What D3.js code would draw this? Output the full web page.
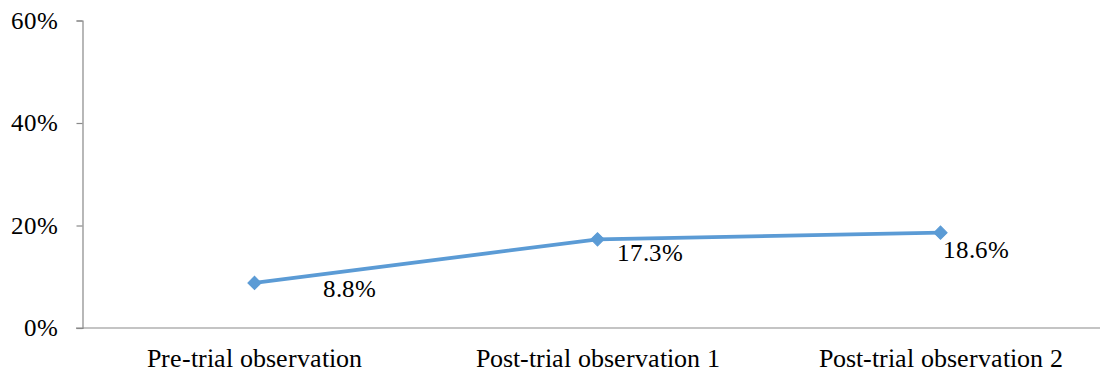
<!DOCTYPE html>
<html>
<head>
<meta charset="utf-8">
<script src="https://cdn.jsdelivr.net/npm/d3@7"></script>
<style>
  @font-face {
    font-family: "ChartSerif";
    src: local("Liberation Serif"), local("LiberationSerif"), local("LiberationSerif-Regular"),
         local("Times New Roman"), local("Tinos"), local("DejaVu Serif"), local("DejaVuSerif");
  }
  html, body { margin: 0; padding: 0; background: #fff; }
  svg { display: block; }
</style>
</head>
<body>
<svg id="chart" width="1100" height="374"></svg>
<script>
// Observation phases and the share recorded at each
const categories = ["Pre-trial observation", "Post-trial observation 1", "Post-trial observation 2"];
const values = [8.8, 17.3, 18.6];
const yTicks = [0, 20, 40, 60];

// Hand-placed data label nudges (dx, dy from each point)
const labelNudge = [[68, 14], [19, 22], [2, 25]];

const FONT = "ChartSerif, 'Liberation Serif', 'DejaVu Serif', serif";
const svg = d3.select("#chart").style("font-family", FONT);
const axisColor = "#898989";
const lineColor = "#5b9bd5";

const x = d3.scaleBand().domain(categories).range([83, 1112]);
const y = d3.scaleLinear().domain([0, 60]).range([328, 20.5]);

// Y axis
const yAxis = svg.append("g").attr("transform", "translate(82.5,0)")
  .call(d3.axisLeft(y).tickValues(yTicks).tickFormat(d => d + "%").tickSize(6).tickSizeOuter(6));
yAxis.attr("font-family", null).attr("font-size", null);
yAxis.select(".domain").attr("stroke", axisColor).attr("stroke-width", 1.2);
yAxis.selectAll(".tick line").attr("stroke", axisColor).attr("stroke-width", 1.2);
yAxis.selectAll(".tick text").attr("x", -25)
  .style("font-family", FONT).style("font-size", "24.5px").attr("fill", "#000");

// X axis baseline and category labels
svg.append("line")
  .attr("x1", 76).attr("x2", 1100)
  .attr("y1", y(0)).attr("y2", y(0))
  .attr("stroke", axisColor).attr("stroke-width", 1.2);

svg.selectAll(".xlab").data(categories).enter().append("text")
  .attr("class", "xlab")
  .attr("x", d => x(d) + x.bandwidth() / 2)
  .attr("y", 366.5)
  .attr("text-anchor", "middle")
  .style("font-family", FONT).style("font-size", "26px")
  .attr("fill", "#000")
  .text(d => d);

// Series line
const pts = categories.map((c, i) => ({ c, v: values[i], i }));
const line = d3.line().x(d => x(d.c) + x.bandwidth() / 2).y(d => y(d.v));
svg.append("path").datum(pts)
  .attr("d", line)
  .attr("fill", "none")
  .attr("stroke", lineColor)
  .attr("stroke-width", 3.8)
  .attr("stroke-linejoin", "round");

// Diamond markers
svg.selectAll(".mk").data(pts).enter().append("path")
  .attr("class", "mk")
  .attr("transform", d => `translate(${x(d.c) + x.bandwidth() / 2},${y(d.v)}) rotate(45)`)
  .attr("d", d3.symbol().type(d3.symbolSquare).size(88))
  .attr("fill", lineColor)
  .attr("stroke", lineColor)
  .attr("stroke-width", 1);

// Data labels
svg.selectAll(".dl").data(pts).enter().append("text")
  .attr("class", "dl")
  .attr("x", d => x(d.c) + x.bandwidth() / 2 + labelNudge[d.i][0])
  .attr("y", d => y(d.v) + labelNudge[d.i][1])
  .style("font-family", FONT).style("font-size", "25px")
  .attr("fill", "#000")
  .text(d => d.v.toFixed(1) + "%");
</script>
</body>
</html>
